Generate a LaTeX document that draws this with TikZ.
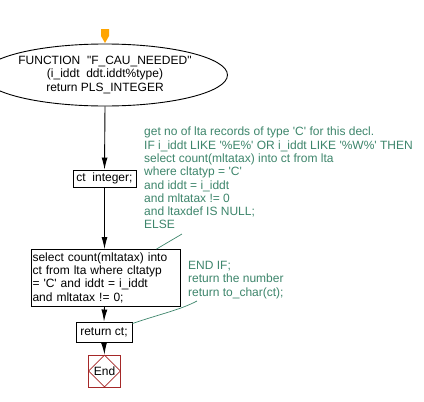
\documentclass[tikz,border=0pt]{standalone}
\usepackage{fontspec}
\setmainfont{Liberation Sans}[Ligatures=TeXOff]
\usetikzlibrary{shapes.geometric,arrows.meta}
\definecolor{cmt}{RGB}{61,133,107}
\definecolor{endred}{RGB}{165,40,40}
\definecolor{startorange}{RGB}{255,165,0}
\tikzset{
  every node/.style={font=\fontsize{12}{13.3}\selectfont},
  box/.style={draw, line width=0.9pt, inner sep=0pt},
  flow/.style={line width=0.9pt, -{Latex[length=12pt,width=6pt]}},
  cmttext/.style={text=cmt, align=left, inner sep=0pt, anchor=north west},
  cmtline/.style={draw=cmt, line width=0.7pt},
}
\begin{document}
\begin{tikzpicture}[x=1pt,y=-1pt]
\useasboundingbox (0,0) rectangle (424,402);
% nodes
\node[draw, ellipse, line width=0.9pt, minimum width=198pt, minimum height=62pt, inner sep=0pt, align=center] (fn) at (105,75)
  {FUNCTION\ \ "F\_CAU\_NEEDED"\\(i\_iddt\ \ ddt.iddt\%type)\\return PLS\_INTEGER};
\node[box, minimum width=63pt, minimum height=17pt] (ct) at (104.5,178.5) {ct\ \ integer;};
\node[box, minimum width=149pt, minimum height=56.5pt, align=left, text width=146pt, inner xsep=1.5pt] (sel) at (105.5,277.75)
  {select count(mltatax) into\\ct from lta where cltatyp\\= 'C' and iddt = i\_iddt\\and mltatax != 0;};
\node[box, minimum width=56pt, minimum height=20pt] (ret) at (104,332) {return ct;};
\node[draw=endred, line width=0.9pt, minimum width=32pt, minimum height=32pt, inner sep=0pt] (endbox) at (104.5,371) {};
\node[draw=endred, diamond, line width=0.8pt, minimum width=32pt, minimum height=32pt, inner sep=0pt] (endd) at (endbox.center) {End};
% start marker
\coordinate (start) at (105,29);
\fill[startorange] (101,29) -- (109,29) -- (109,36) -- (105,43) -- (101,36) -- cycle;
% comments
\node[cmttext] (c1) at (144,127)
  {get no of lta records of type 'C' for this decl.\\
   IF i\_iddt LIKE '\%E\%' OR i\_iddt LIKE '\%W\%' THEN\\
   select count(mltatax) into ct from lta\\
   where cltatyp = 'C'\\
   and iddt = i\_iddt\\
   and mltatax != 0\\
   and ltaxdef IS NULL;\\
   ELSE};
\node[cmttext] (c2) at (188,261)
  {END IF;\\return the number\\return to\_char(ct);};
% flow
\draw[flow] (fn.south) -- (ct.north);
\draw[flow] (ct.south) -- (ct.south |- sel.north);
\draw[flow] (ct.south |- sel.south) -- (ret.north);
\draw[flow] (ret.south) -- (endbox.north);
% comment connectors
\draw[cmtline] ([xshift=51pt]sel.north) -- (182,234);
\draw[cmtline] ([yshift=-2pt]ret.north east) .. controls (160,314) and (180,310) .. (197,301);
\end{tikzpicture}
\end{document}
